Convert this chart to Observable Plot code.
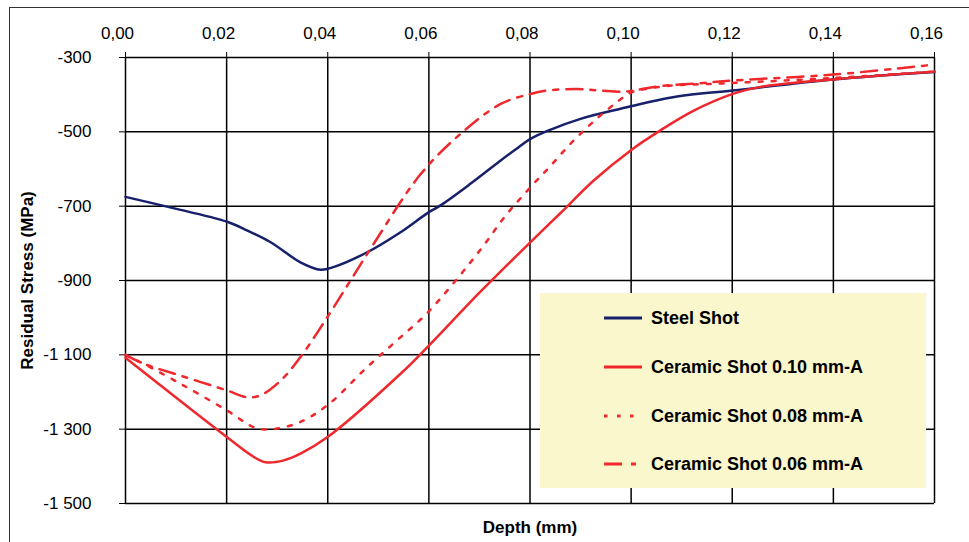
<!DOCTYPE html>
<html>
<head>
<meta charset="utf-8">
<script src="https://cdn.jsdelivr.net/npm/d3@7"></script>
<script src="https://cdn.jsdelivr.net/npm/@observablehq/plot@0.6"></script>
<style>
  html, body { margin: 0; padding: 0; background: #fff; overflow: hidden; }
  #wrap { position: relative; width: 969px; height: 542px; font-family: "Liberation Sans", Arial, sans-serif; }
  #frame { position: absolute; left: 9px; top: 7px; width: 1000px; height: 600px; border: 1.5px solid #333; box-sizing: border-box; }
  #legend { position: absolute; left: 540px; top: 293px; width: 386px; height: 195px; background: #faf7cd; }
  .item { position: absolute; left: 64px; height: 20px; display: flex; align-items: center; }
  .item span { margin-left: 9px; font-weight: bold; font-size: 18px; color: #000; white-space: nowrap; }
  #chart { position: absolute; left: 0; top: 0; }
</style>
</head>
<body>
<div id="wrap">
  <div id="frame"></div>
  <div id="chart"></div>
  <div id="legend"></div>
</div>
<script>
// ---- data ----
const xTicks = [0, 0.02, 0.04, 0.06, 0.08, 0.10, 0.12, 0.14, 0.16];
const yTicks = [-300, -500, -700, -900, -1100, -1300, -1500];

const seriesNames = ["Steel Shot", "Ceramic Shot 0.10 mm-A", "Ceramic Shot 0.08 mm-A", "Ceramic Shot 0.06 mm-A"];

const steelX = [0, 0.0109, 0.0201, 0.024, 0.0287, 0.0346, 0.0386, 0.0411, 0.0478, 0.0544, 0.06, 0.0623, 0.0682, 0.0742, 0.0772, 0.0801, 0.0841, 0.09, 0.0979, 0.1091, 0.1201, 0.14, 0.16];
const steelY = [-675, -710, -742, -765, -797, -851, -871, -864, -824, -770, -716, -698, -640, -577, -547, -519, -494, -465, -438, -405, -389, -359, -339];

const c10X = [0, 0.0201, 0.0254, 0.0277, 0.0313, 0.0346, 0.0399, 0.0544, 0.06, 0.0702, 0.08, 0.086, 0.0926, 0.1001, 0.1058, 0.1124, 0.1201, 0.1256, 0.14, 0.16];
const c10Y = [-1108, -1322, -1375, -1389, -1384, -1366, -1322, -1151, -1075, -930, -798, -719, -631, -548, -496, -443, -398, -379, -359, -338];

const c08X = [0, 0.003, 0.0109, 0.0201, 0.0254, 0.028, 0.034, 0.0399, 0.0478, 0.0537, 0.06, 0.0702, 0.0752, 0.0801, 0.0841, 0.0883, 0.0926, 0.0972, 0.1002, 0.1032, 0.1084, 0.1177, 0.14, 0.16];
const c08Y = [-1100, -1120, -1178, -1250, -1295, -1301, -1284, -1236, -1133, -1061, -983, -817, -725, -649, -591, -528, -472, -420, -393, -384, -375, -370, -355, -338];

const c06X = [0, 0.0036, 0.0109, 0.0201, 0.024, 0.0267, 0.0307, 0.0346, 0.0399, 0.0445, 0.0491, 0.0583, 0.0663, 0.0742, 0.0801, 0.0834, 0.0893, 0.0939, 0.0986, 0.1012, 0.1058, 0.1137, 0.1201, 0.14, 0.16];
const c06Y = [-1100, -1124, -1156, -1196, -1214, -1209, -1169, -1106, -999, -900, -801, -615, -505, -425, -398, -389, -385, -389, -392, -387, -377, -369, -362, -346, -319];

// ---- styles ----
const NAVY = "#17206a";
const RED = "#ef282d";
const styles = [
  {stroke: NAVY, dash: null},
  {stroke: RED, dash: null},
  {stroke: RED, dash: "4,9"},
  {stroke: RED, dash: "16,8,5,8"}
];

const xs = [steelX, c10X, c08X, c06X];
const ys = [steelY, c10Y, c08Y, c06Y];
const tables = xs.map((X, i) => X.map((x, j) => ({series: seriesNames[i], x, y: ys[i][j]})));

const fmtX = d => d.toFixed(2).replace(".", ",");
const fmtY = d => (d < 0 ? "-" : "") + String(Math.abs(d)).replace(/\B(?=(\d{3})+(?!\d))/g, " ");

const lineMarks = tables.map((t, i) => Plot.line(t, {
  x: "x", y: "y", stroke: styles[i].stroke, strokeWidth: 2.5,
  strokeDasharray: styles[i].dash || undefined, curve: "catmull-rom"
}));

const chart = Plot.plot({
  width: 969,
  height: 542,
  marginLeft: 125,
  marginRight: 35,
  marginTop: 57,
  marginBottom: 39,
  style: {fontFamily: "'Liberation Sans', Arial, sans-serif", fontSize: "17px", color: "#000", background: "transparent"},
  x: {domain: [0, 0.16]},
  y: {domain: [-1500, -300]},
  marks: [
    Plot.ruleX(xTicks, {stroke: "#000", strokeWidth: 1.5}),
    Plot.ruleY(yTicks, {stroke: "#000", strokeWidth: 1.5}),
    Plot.axisX({anchor: "top", ticks: xTicks, tickFormat: fmtX, tickSize: 6, tickPadding: 13, label: null, fontSize: 17}),
    Plot.axisY({anchor: "left", ticks: yTicks, tickFormat: fmtY, tickSize: 6, tickPadding: 28, label: null, fontSize: 17}),
    ...lineMarks,
    Plot.text(["Residual Stress (MPa)"], {frameAnchor: "left", textAnchor: "middle", dx: -98, rotate: -90, fontWeight: "bold", fontSize: 17}),
    Plot.text(["Depth (mm)"], {frameAnchor: "bottom", dy: 29, fontWeight: "bold", fontSize: 17})
  ]
});
// shift the top tick labels slightly left, as in the reference
chart.querySelectorAll("g[aria-label='x-axis tick label'] text").forEach(t => {
  t.setAttribute("dx", "-8");
});
document.getElementById("chart").appendChild(chart);

// ---- legend ----
const legend = document.getElementById("legend");
const rowTops = [25, 74, 123, 171];
seriesNames.forEach((name, i) => {
  const item = document.createElement("div");
  item.className = "item";
  item.style.top = rowTops[i] - 10 + "px";
  const ns = "http://www.w3.org/2000/svg";
  const svg = document.createElementNS(ns, "svg");
  svg.setAttribute("width", 38);
  svg.setAttribute("height", 20);
  const ln = document.createElementNS(ns, "line");
  ln.setAttribute("x1", 0); ln.setAttribute("x2", 38);
  ln.setAttribute("y1", 10); ln.setAttribute("y2", 10);
  ln.setAttribute("stroke", styles[i].stroke);
  ln.setAttribute("stroke-width", 3);
  if (styles[i].dash) ln.setAttribute("stroke-dasharray", i === 2 ? "3.5,9.5" : "18,9,5,9");
  svg.appendChild(ln);
  const sp = document.createElement("span");
  sp.textContent = name;
  item.appendChild(svg);
  item.appendChild(sp);
  legend.appendChild(item);
});
</script>
</body>
</html>
